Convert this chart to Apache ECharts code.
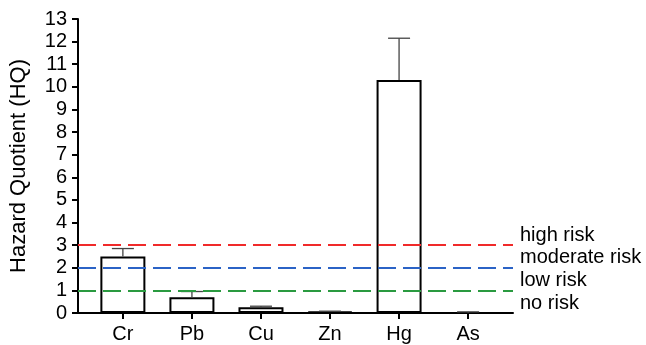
<!DOCTYPE html>
<html>
<head>
<meta charset="utf-8">
<script src="https://cdn.jsdelivr.net/npm/echarts@6/dist/echarts.min.js"></script>
<style>
  html, body { margin: 0; padding: 0; background: #fff; }
  #chart { width: 646px; height: 345px; }
</style>
</head>
<body>
<div id="chart"></div>
<script>
// metals and their hazard quotient (mean + upper error)
var metals = ["Cr", "Pb", "Cu", "Zn", "Hg", "As"];
var hqMean = [2.5, 0.7, 0.25, 0.06, 10.3, 0];
var hqUpper = [2.85, 0.95, 0.3, 0.08, 12.15, 0.05];
var riskLevels = [3, 2, 1, 0];
var riskNames = ["high risk", "moderate risk", "low risk", "no risk"];
var riskColors = ["#f02a2a", "#2b63c6", "#2a9a40", "rgba(0,0,0,0)"];
var yTicks = [0, 13, 1];

var font = "Liberation Sans";
var myChart = echarts.init(document.getElementById("chart"));

var barData = hqMean.map(function(v, i) {
  // a zero bar draws nothing, not even its outline
  return { value: [i, v], itemStyle: v > 0 ? {} : { borderWidth: 0 } };
});
var errData = hqMean.map(function(v, i) { return [i, v, hqUpper[i]]; });

var riskLines = riskLevels.map(function(lv, i) {
  return {
    yAxis: lv,
    lineStyle: {
      color: riskColors[i],
      width: 2,
      type: [18, 7]
    },
    label: {
      show: true,
      position: "end",
      formatter: riskNames[i],
      color: "#000",
      fontFamily: font,
      fontSize: 20,
      distance: 7,
      offset: [0, -10]
    }
  };
});

var option = {
  animation: false,
  grid: {
    left: 76,
    right: 133,
    top: 19,
    bottom: 32,
    containLabel: false
  },
  xAxis: {
    type: "value",
    min: -0.65,
    max: 5.65,
    splitLine: { show: false },
    axisLine: { show: true, lineStyle: { color: "#000", width: 2 } },
    axisTick: {
      show: true,
      customValues: [0, 1, 2, 3, 4, 5],
      length: 6,
      lineStyle: { color: "#000", width: 2 }
    },
    axisLabel: {
      customValues: [0, 1, 2, 3, 4, 5],
      formatter: function(v) { return metals[Math.round(v)]; },
      color: "#000",
      fontFamily: font,
      fontSize: 20,
      margin: 11
    }
  },
  yAxis: {
    type: "value",
    min: yTicks[0],
    max: yTicks[1],
    interval: yTicks[2],
    name: "Hazard Quotient (HQ)",
    nameLocation: "middle",
    nameGap: 48,
    nameTextStyle: { color: "#000", fontFamily: font, fontSize: 22 },
    splitLine: { show: false },
    axisLine: { show: true, onZero: false, lineStyle: { color: "#000", width: 2 } },
    axisTick: { show: true, length: 6, lineStyle: { color: "#000", width: 2 } },
    axisLabel: { color: "#000", fontFamily: font, fontSize: 20, margin: 11 }
  },
  series: [
    {
      type: "bar",
      data: barData,
      barWidth: 45,
      itemStyle: { color: "#fff", borderColor: "#000", borderWidth: 2 },
      markLine: {
        silent: true,
        symbol: "none",
        data: riskLines
      },
      z: 3
    },
    {
      type: "custom",
      data: errData,
      z: 4,
      renderItem: function(params, api) {
        var top = api.coord([api.value(0), api.value(2)]);
        var base = api.coord([api.value(0), api.value(1)]);
        var half = 11;
        var st = { stroke: "#444", lineWidth: 1.3 };
        return {
          type: "group",
          children: [
            { type: "line", shape: { x1: top[0], y1: base[1], x2: top[0], y2: top[1] }, style: st },
            { type: "line", shape: { x1: top[0] - half, y1: top[1], x2: top[0] + half, y2: top[1] }, style: st }
          ]
        };
      }
    }
  ]
};

myChart.setOption(option);
</script>
</body>
</html>
